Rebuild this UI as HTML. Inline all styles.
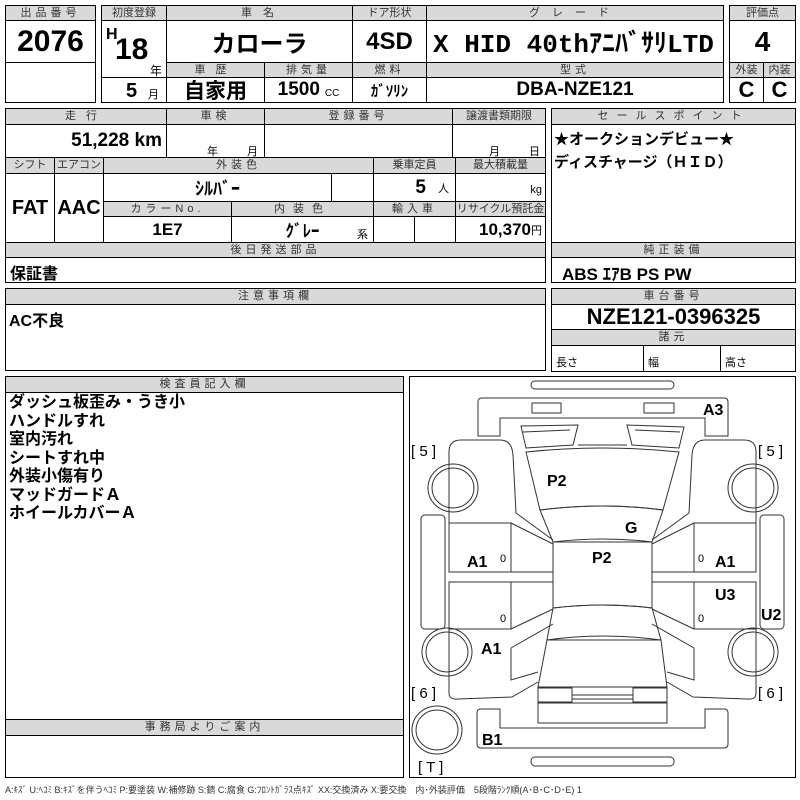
<!DOCTYPE html>
<html><head><meta charset="utf-8">
<style>
body{margin:0;width:800px;height:800px;background:#fff;position:relative;overflow:hidden;font-family:"Liberation Sans","Noto Sans CJK JP",sans-serif;}
.c{position:absolute;box-sizing:border-box;border:1px solid #000;background:#fff;}
.h{background:#d9d9d9;font-size:11px;color:#333;text-align:center;letter-spacing:4px;line-height:14px;white-space:nowrap;overflow:hidden;}
.v{font-weight:bold;color:#000;display:flex;align-items:center;justify-content:center;white-space:nowrap;}
.n{font-family:"Liberation Sans Narrow","Liberation Sans","Noto Sans CJK JP",sans-serif;}
.t{position:absolute;white-space:nowrap;}
</style></head><body>

<!-- block 1 -->
<div class="c h" style="left:5px;top:5px;width:91px;height:16px">出品番号</div>
<div class="c v n" style="left:5px;top:20px;width:91px;height:43px;font-size:30px">2076</div>
<div class="c" style="left:5px;top:62px;width:91px;height:41px"></div>

<div class="c h" style="left:101px;top:5px;width:66px;height:16px;letter-spacing:0">初度登録</div>
<div class="c" style="left:101px;top:20px;width:66px;height:58px"></div>
<div class="t n" style="left:106px;top:26px;font-size:16px;font-weight:bold">H</div>
<div class="t n" style="left:115px;top:33px;font-size:30px;font-weight:bold">18</div>
<div class="t" style="left:150px;top:62px;font-size:12px">年</div>
<div class="c" style="left:101px;top:77px;width:66px;height:26px"></div>
<div class="t n" style="left:126px;top:80px;font-size:20px;font-weight:bold">5</div>
<div class="t" style="left:148px;top:86px;font-size:11px">月</div>

<div class="c h" style="left:166px;top:5px;width:187px;height:16px">車 名</div>
<div class="c v n" style="left:166px;top:20px;width:187px;height:43px;font-size:24px">カローラ</div>
<div class="c h" style="left:352px;top:5px;width:75px;height:16px;letter-spacing:0">ドア形状</div>
<div class="c v n" style="left:352px;top:20px;width:75px;height:43px;font-size:24px">4SD</div>
<div class="c h" style="left:426px;top:5px;width:298px;height:16px;letter-spacing:12px">グレード</div>
<div class="c v" style="left:426px;top:20px;width:298px;height:43px;font-size:26px;font-family:'Liberation Mono','Noto Sans CJK JP',monospace;justify-content:flex-start;padding-left:6px">X HID 40thｱﾆﾊﾞｻﾘLTD</div>
<div class="c h" style="left:166px;top:62px;width:99px;height:16px;letter-spacing:10px">車歴</div>
<div class="c v" style="left:166px;top:77px;width:99px;height:26px;font-size:21px">自家用</div>
<div class="c h" style="left:264px;top:62px;width:89px;height:16px">排気量</div>
<div class="c v n" style="left:264px;top:77px;width:89px;height:26px;font-size:19px">1500<span style="font-size:10px;font-weight:normal;margin-left:5px;margin-top:6px">CC</span></div>
<div class="c h" style="left:352px;top:62px;width:75px;height:16px">燃料</div>
<div class="c v n" style="left:352px;top:77px;width:75px;height:26px;font-size:15px">ｶﾞｿﾘﾝ</div>
<div class="c h" style="left:426px;top:62px;width:298px;height:16px">型式</div>
<div class="c v n" style="left:426px;top:77px;width:298px;height:26px;font-size:19px">DBA-NZE121</div>

<div class="c h" style="left:729px;top:5px;width:67px;height:16px;letter-spacing:0">評価点</div>
<div class="c v n" style="left:729px;top:20px;width:67px;height:43px;font-size:28px">4</div>
<div class="c h" style="left:729px;top:62px;width:35px;height:16px;letter-spacing:0">外装</div>
<div class="c h" style="left:763px;top:62px;width:33px;height:16px;letter-spacing:0">内装</div>
<div class="c v n" style="left:729px;top:77px;width:35px;height:26px;font-size:22px">C</div>
<div class="c v n" style="left:763px;top:77px;width:33px;height:26px;font-size:22px">C</div>

<!-- block 2 -->
<div class="c h" style="left:5px;top:108px;width:162px;height:17px;letter-spacing:10px">走行</div>
<div class="c v n" style="left:5px;top:124px;width:162px;height:34px;font-size:19px;justify-content:flex-end;padding-right:4px">51,228 km</div>
<div class="c h" style="left:166px;top:108px;width:99px;height:17px">車検</div>
<div class="c" style="left:166px;top:124px;width:99px;height:34px;font-size:11px"><span class="t" style="left:40px;top:18px">年</span><span class="t" style="left:80px;top:18px">月</span></div>
<div class="c h" style="left:264px;top:108px;width:189px;height:17px">登録番号</div>
<div class="c" style="left:264px;top:124px;width:189px;height:34px"></div>
<div class="c h" style="left:452px;top:108px;width:94px;height:17px;letter-spacing:0">譲渡書類期限</div>
<div class="c" style="left:452px;top:124px;width:94px;height:34px;font-size:11px"><span class="t" style="left:36px;top:18px">月</span><span class="t" style="left:76px;top:18px">日</span></div>

<div class="c h" style="left:5px;top:157px;width:50px;height:17px;letter-spacing:0">シフト</div>
<div class="c h" style="left:54px;top:157px;width:50px;height:17px;letter-spacing:0">エアコン</div>
<div class="c v n" style="left:5px;top:173px;width:50px;height:70px;font-size:20px">FAT</div>
<div class="c v n" style="left:54px;top:173px;width:50px;height:70px;font-size:20px">AAC</div>
<div class="c h" style="left:103px;top:157px;width:271px;height:17px">外装色</div>
<div class="c v n" style="left:103px;top:173px;width:229px;height:29px;font-size:18px">ｼﾙﾊﾞｰ</div>
<div class="c" style="left:331px;top:173px;width:43px;height:29px"></div>
<div class="c h" style="left:373px;top:157px;width:83px;height:17px;letter-spacing:0">乗車定員</div>
<div class="c v n" style="left:373px;top:173px;width:83px;height:29px;font-size:19px;justify-content:flex-end;padding-right:6px">5<span style="font-size:11px;font-weight:normal;margin-left:12px">人</span></div>
<div class="c h" style="left:455px;top:157px;width:91px;height:17px;letter-spacing:0">最大積載量</div>
<div class="c" style="left:455px;top:173px;width:91px;height:29px"><span class="t" style="right:3px;top:10px;font-size:11px">kg</span></div>
<div class="c h" style="left:103px;top:201px;width:129px;height:16px">カラーNo.</div>
<div class="c v n" style="left:103px;top:216px;width:129px;height:27px;font-size:17px">1E7</div>
<div class="c h" style="left:231px;top:201px;width:143px;height:16px;letter-spacing:8px">内装色</div>
<div class="c v n" style="left:231px;top:216px;width:143px;height:27px;font-size:17px">ｸﾞﾚｰ<span class="t" style="right:5px;top:9px;font-size:11px;font-weight:normal">系</span></div>
<div class="c h" style="left:373px;top:201px;width:83px;height:16px">輸入車</div>
<div class="c" style="left:373px;top:216px;width:42px;height:27px"></div>
<div class="c" style="left:414px;top:216px;width:42px;height:27px"></div>
<div class="c h" style="left:455px;top:201px;width:91px;height:16px;letter-spacing:0">リサイクル預託金</div>
<div class="c v n" style="left:455px;top:216px;width:91px;height:27px;font-size:17px;justify-content:flex-end;padding-right:3px">10,370<span style="font-size:11px;font-weight:normal">円</span></div>
<div class="c h" style="left:5px;top:242px;width:541px;height:16px">後日発送部品</div>
<div class="c" style="left:5px;top:257px;width:541px;height:26px;font-size:16px;font-weight:bold;padding:2px 4px">保証書</div>

<!-- right column -->
<div class="c h" style="left:551px;top:108px;width:245px;height:17px;letter-spacing:8px">セールスポイント</div>
<div class="c" style="left:551px;top:124px;width:245px;height:119px;font-size:15px;font-weight:bold;line-height:23px;padding:3px 2px">★オークションデビュー★<br>ディスチャージ（ＨＩＤ）</div>
<div class="c h" style="left:551px;top:242px;width:245px;height:16px">純正装備</div>
<div class="c n" style="left:551px;top:257px;width:245px;height:26px;font-size:17px;font-weight:bold;padding:2px 10px">ABS ｴｱB PS PW</div>

<div class="c h" style="left:5px;top:288px;width:541px;height:17px">注意事項欄</div>
<div class="c" style="left:5px;top:304px;width:541px;height:67px;font-size:16px;font-weight:bold;padding:2px 3px">AC不良</div>

<div class="c h" style="left:551px;top:288px;width:245px;height:17px">車台番号</div>
<div class="c v n" style="left:551px;top:304px;width:245px;height:26px;font-size:22px">NZE121-0396325</div>
<div class="c h" style="left:551px;top:329px;width:245px;height:17px">諸元</div>
<div class="c" style="left:551px;top:345px;width:93px;height:27px;font-size:11px;padding:8px 4px">長さ</div>
<div class="c" style="left:643px;top:345px;width:78px;height:27px;font-size:11px;padding:8px 4px">幅</div>
<div class="c" style="left:720px;top:345px;width:76px;height:27px;font-size:11px;padding:8px 4px">高さ</div>

<!-- inspector -->
<div class="c" style="left:5px;top:376px;width:399px;height:402px"></div>
<div class="c h" style="left:5px;top:376px;width:399px;height:17px">検査員記入欄</div>
<div class="t" style="left:9px;top:394px;font-size:16px;font-weight:bold;line-height:18.5px">ダッシュ板歪み・うき小<br>ハンドルすれ<br>室内汚れ<br>シートすれ中<br>外装小傷有り<br>マッドガードＡ<br>ホイールカバーＡ</div>
<div class="c h" style="left:5px;top:719px;width:399px;height:17px">事務局よりご案内</div>

<!-- diagram -->
<div class="c" style="left:409px;top:376px;width:387px;height:402px"></div>
<svg width="800" height="800" style="position:absolute;left:0;top:0" fill="none" stroke="#333" stroke-width="1">
<rect x="531" y="381" width="143" height="8" rx="4"/>
<path d="M482,398 H724 Q728,398 728,402 V436 H705 V418 H500 V436 H478 V402 Q478,398 482,398 Z"/>
<rect x="532" y="403" width="29" height="10"/>
<rect x="644" y="403" width="30" height="10"/>
<path d="M521,426 L578,425 L573,445 L526,448 Z M523,432 L570,430"/>
<path d="M627,425 L684,427 L679,448 L632,445 Z M635,430 L680,432"/>
<path d="M578,445 H627"/>
<path d="M526,452 Q603,444 679,452 L663,510 Q603,502 540,510 Z"/>
<path d="M540,510 Q603,502 663,510 L652,542 Q603,536 553,542 Z"/>
<path d="M553,542 H652 V608 Q603,602 553,608 Z"/>
<path d="M553,608 Q603,602 652,608 L661,640 Q603,632 547,640 Z"/>
<path d="M547,640 H661 L667,687 H538 Z"/>
<rect x="538" y="688" width="34" height="14"/>
<rect x="633" y="688" width="34" height="14"/>
<path d="M572,695 H633 M572,699 H633"/>
<rect x="538" y="703" width="129" height="20"/>
<path d="M481,709 H500 V728 H705 V709 H724 Q728,709 728,713 V744 Q728,748 724,748 H481 Q477,748 477,744 V713 Q477,709 481,709 Z"/>
<rect x="531" y="757" width="143" height="9" rx="4"/>
<path d="M449,523 V452 Q449,440 461,440 H500 Q512,440 513,455 L516,513 L553,540"/>
<path d="M511,523 L553,544"/>
<rect x="449" y="523" width="62" height="49"/><rect x="449" y="582" width="62" height="47"/>
<path d="M511,572 H553 M511,582 H553"/>
<path d="M511,629 L553,609 M511,648 L553,624 M511,648 V680 L538,672"/>
<path d="M449,629 V693 Q449,700 458,699 L512,697 L538,682"/>
<rect x="421" y="515" width="24" height="114" rx="4"/>
<path d="M756,523 V452 Q756,440 744,440 H705 Q693,440 692,455 L689,513 L652,540"/>
<path d="M694,523 L652,544"/>
<rect x="694" y="523" width="62" height="49"/><rect x="694" y="582" width="62" height="47"/>
<path d="M694,572 H652 M694,582 H652"/>
<path d="M694,629 L652,609 M694,648 L652,624 M694,648 V680 L667,672"/>
<path d="M756,629 V693 Q756,700 747,699 L693,697 L667,682"/>
<rect x="760" y="515" width="24" height="114" rx="4"/>
<ellipse cx="453" cy="488" rx="25" ry="24"/><ellipse cx="453" cy="488" rx="21" ry="20"/>
<ellipse cx="447" cy="652" rx="25" ry="24"/><ellipse cx="447" cy="652" rx="21" ry="20"/>
<ellipse cx="753" cy="488" rx="25" ry="24"/><ellipse cx="753" cy="488" rx="21" ry="20"/>
<ellipse cx="753" cy="652" rx="25" ry="24"/><ellipse cx="753" cy="652" rx="21" ry="20"/>
<ellipse cx="437" cy="730" rx="25" ry="24"/><ellipse cx="437" cy="730" rx="21" ry="20"/>
<g fill="#000" stroke="none" font-family="Liberation Sans, sans-serif" font-weight="bold" font-size="16">
<text x="547" y="486">P2</text><text x="625" y="533">G</text><text x="592" y="563">P2</text>
<text x="467" y="567">A1</text><text x="715" y="567">A1</text><text x="715" y="600">U3</text>
<text x="761" y="620">U2</text><text x="481" y="654">A1</text><text x="703" y="415">A3</text><text x="482" y="745">B1</text>
<text x="758" y="456" font-weight="normal" font-size="15">[ 5 ]</text><text x="411" y="456" font-weight="normal" font-size="15">[ 5 ]</text>
<text x="411" y="698" font-weight="normal" font-size="15">[ 6 ]</text><text x="758" y="698" font-weight="normal" font-size="15">[ 6 ]</text>
<text x="418" y="772" font-weight="normal" font-size="15">[ T ]</text>
<text x="500" y="562" font-size="11" font-weight="normal">0</text><text x="500" y="622" font-size="11" font-weight="normal">0</text>
<text x="698" y="562" font-size="11" font-weight="normal">0</text><text x="698" y="622" font-size="11" font-weight="normal">0</text>
</g>
</svg>
<div class="t" style="left:5px;top:783px;font-size:9px;color:#333">A:ｷｽﾞ U:ﾍｺﾐ B:ｷｽﾞを伴うﾍｺﾐ P:要塗装 W:補修跡 S:錆 C:腐食 G:ﾌﾛﾝﾄｶﾞﾗｽ点ｷｽﾞ XX:交換済み X:要交換　内･外装評価　5段階ﾗﾝｸ順(A･B･C･D･E) 1</div>
</body></html>
